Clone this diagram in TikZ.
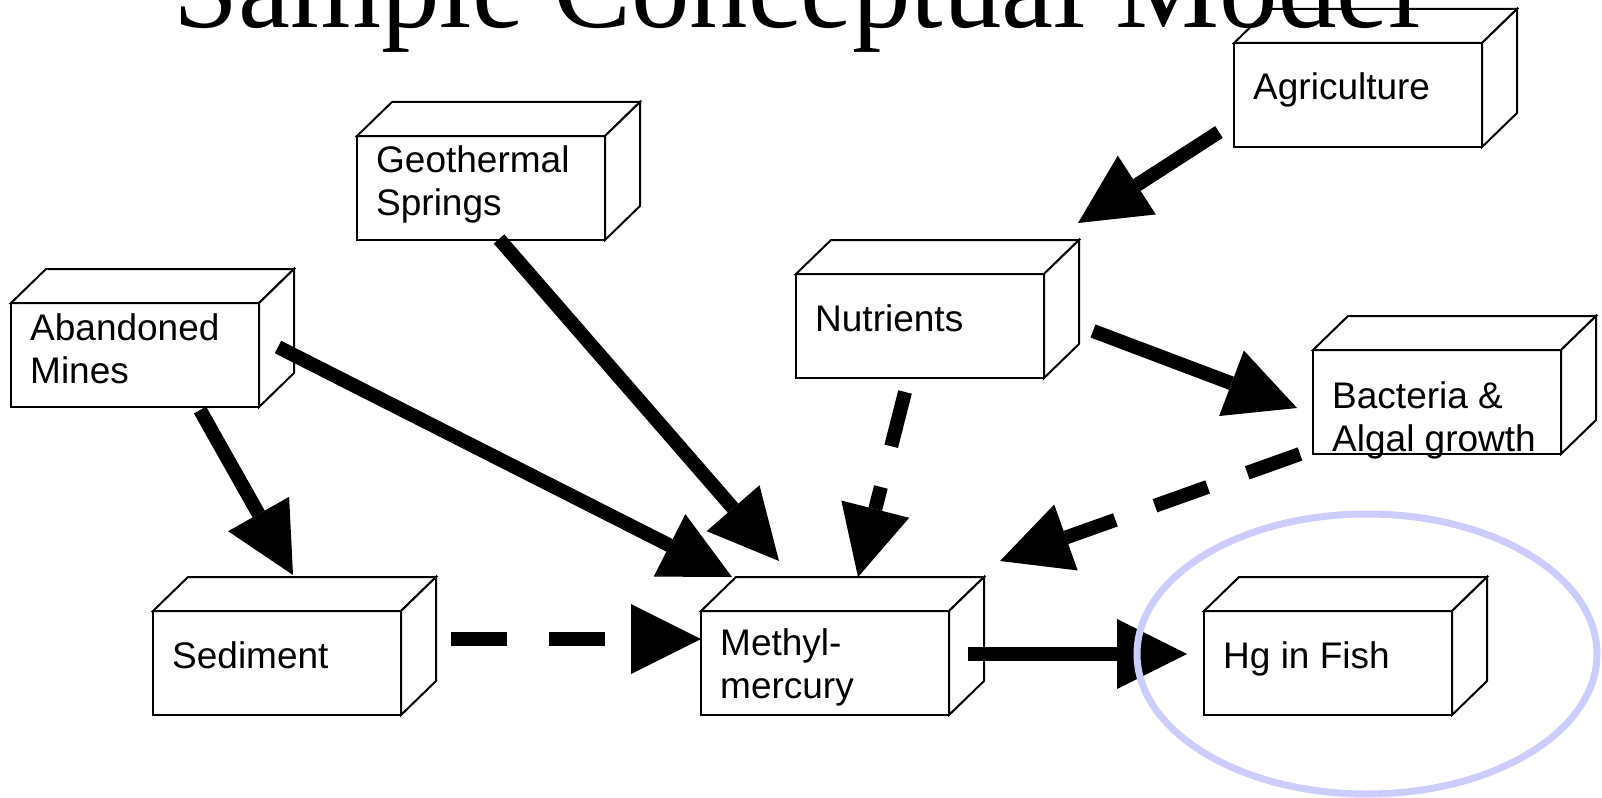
\documentclass[tikz,border=0pt]{standalone}
\usepackage{fontspec}
\setmainfont{Liberation Sans}
\newfontfamily\titlefont{Liberation Serif}
\usetikzlibrary{arrows.meta,calc}
\definecolor{halocol}{RGB}{204,204,255}
\tikzset{
  cubefront/.style={draw, line width=2pt, fill=white, minimum width=248pt, minimum height=104pt, inner sep=0pt, outer sep=0pt, anchor=north west},
  cubeface/.style={draw, line width=2pt, fill=white, line join=miter},
  lbl/.style={anchor=base west, inner sep=0pt, align=left, font=\fontsize{37}{43}\selectfont},
  flow/.style={line width=14pt, -{Triangle[length=70pt,width=70pt,line width=0pt]}},
  dflow/.style={flow, dash pattern=on 56pt off 42pt},
  halo/.style={draw=halocol, line width=7pt}
}
\newcommand\cubeat[3]{%
  \node[cubefront] (#1) at (#2,#3) {};
  \draw[cubeface] (#1.north west) -- ++(35,-34) -- ++(248,0) -- (#1.north east) -- cycle;
  \draw[cubeface] (#1.north east) -- ++(35,-34) -- ++(0,104) -- (#1.south east) -- cycle;
}
\begin{document}
\begin{tikzpicture}[x=1pt,y=-1pt]
\useasboundingbox[fill=white] (0,0) rectangle (1602,797);

% boxes
\cubeat{agri}{1234}{43}
\cubeat{geo}{357}{136}
\cubeat{mines}{11}{303}
\cubeat{nutr}{796}{274}
\cubeat{bact}{1313}{350}
\cubeat{sed}{153}{611}
\cubeat{meth}{701}{611}
\cubeat{fish}{1204}{611}

% labels (base = baseline of the last line)
\node[lbl] (agri-t)  at ($(agri.north west)+(19,57)$) {Agriculture};
\node[lbl] (geo-t)   at ($(geo.north west)+(19,79)$) {Geothermal\\Springs};
\node[lbl] (mines-t) at ($(mines.north west)+(19,80)$) {Abandoned\\Mines};
\node[lbl] (nutr-t)  at ($(nutr.north west)+(19,57)$) {Nutrients};
\node[lbl] (bact-t)  at ($(bact.north west)+(19,101)$) {Bacteria \&\\Algal growth};
\node[lbl] (sed-t)   at ($(sed.north west)+(19,57)$) {Sediment};
\node[lbl] (meth-t)  at ($(meth.north west)+(19,87)$) {Methyl-\\mercury};
\node[lbl] (fish-t)  at ($(fish.north west)+(19,57)$) {Hg in Fish};

% connector end points
\coordinate (agri-o) at (1219,132);  \coordinate (nutr-i) at (1078,223);
\coordinate (geo-o)  at (499,239);   \coordinate (meth-i1) at (779,561);
\coordinate (mines-o1) at (278,347); \coordinate (meth-i2) at (732,577);
\coordinate (mines-o2) at (200,410); \coordinate (sed-i) at (293,575);
\coordinate (sed-o)  at (451,639);   \coordinate (meth-i3) at (701,639);
\coordinate (nutr-o1) at (905,392);  \coordinate (meth-i4) at (858,577);
\coordinate (nutr-o2) at (1093,331); \coordinate (bact-i) at (1297,408);
\coordinate (bact-o) at (1300,454);  \coordinate (meth-i5) at (1000,561);
\coordinate (meth-o) at (968,654);   \coordinate (fish-i) at (1187,654);

% connectors
\draw[flow] (agri-o) -- (nutr-i);
\draw[flow] (geo-o) -- (meth-i1);
\draw[flow] (mines-o1) -- (meth-i2);
\draw[flow] (mines-o2) -- (sed-i);
\draw[dflow] (sed-o) -- (meth-i3);
\draw[dflow] (nutr-o1) -- (meth-i4);
\draw[flow] (nutr-o2) -- (bact-i);
\draw[dflow] (bact-o) -- (meth-i5);
\draw[flow] (meth-o) -- (fish-i);

% highlight
\draw[halo] (1367,654) ellipse [x radius=230, y radius=140];

% title
\node[font=\titlefont\fontsize{117}{120}\selectfont, anchor=base, inner sep=0pt] (title) at (797,28) {Sample Conceptual Model};
\end{tikzpicture}
\end{document}
